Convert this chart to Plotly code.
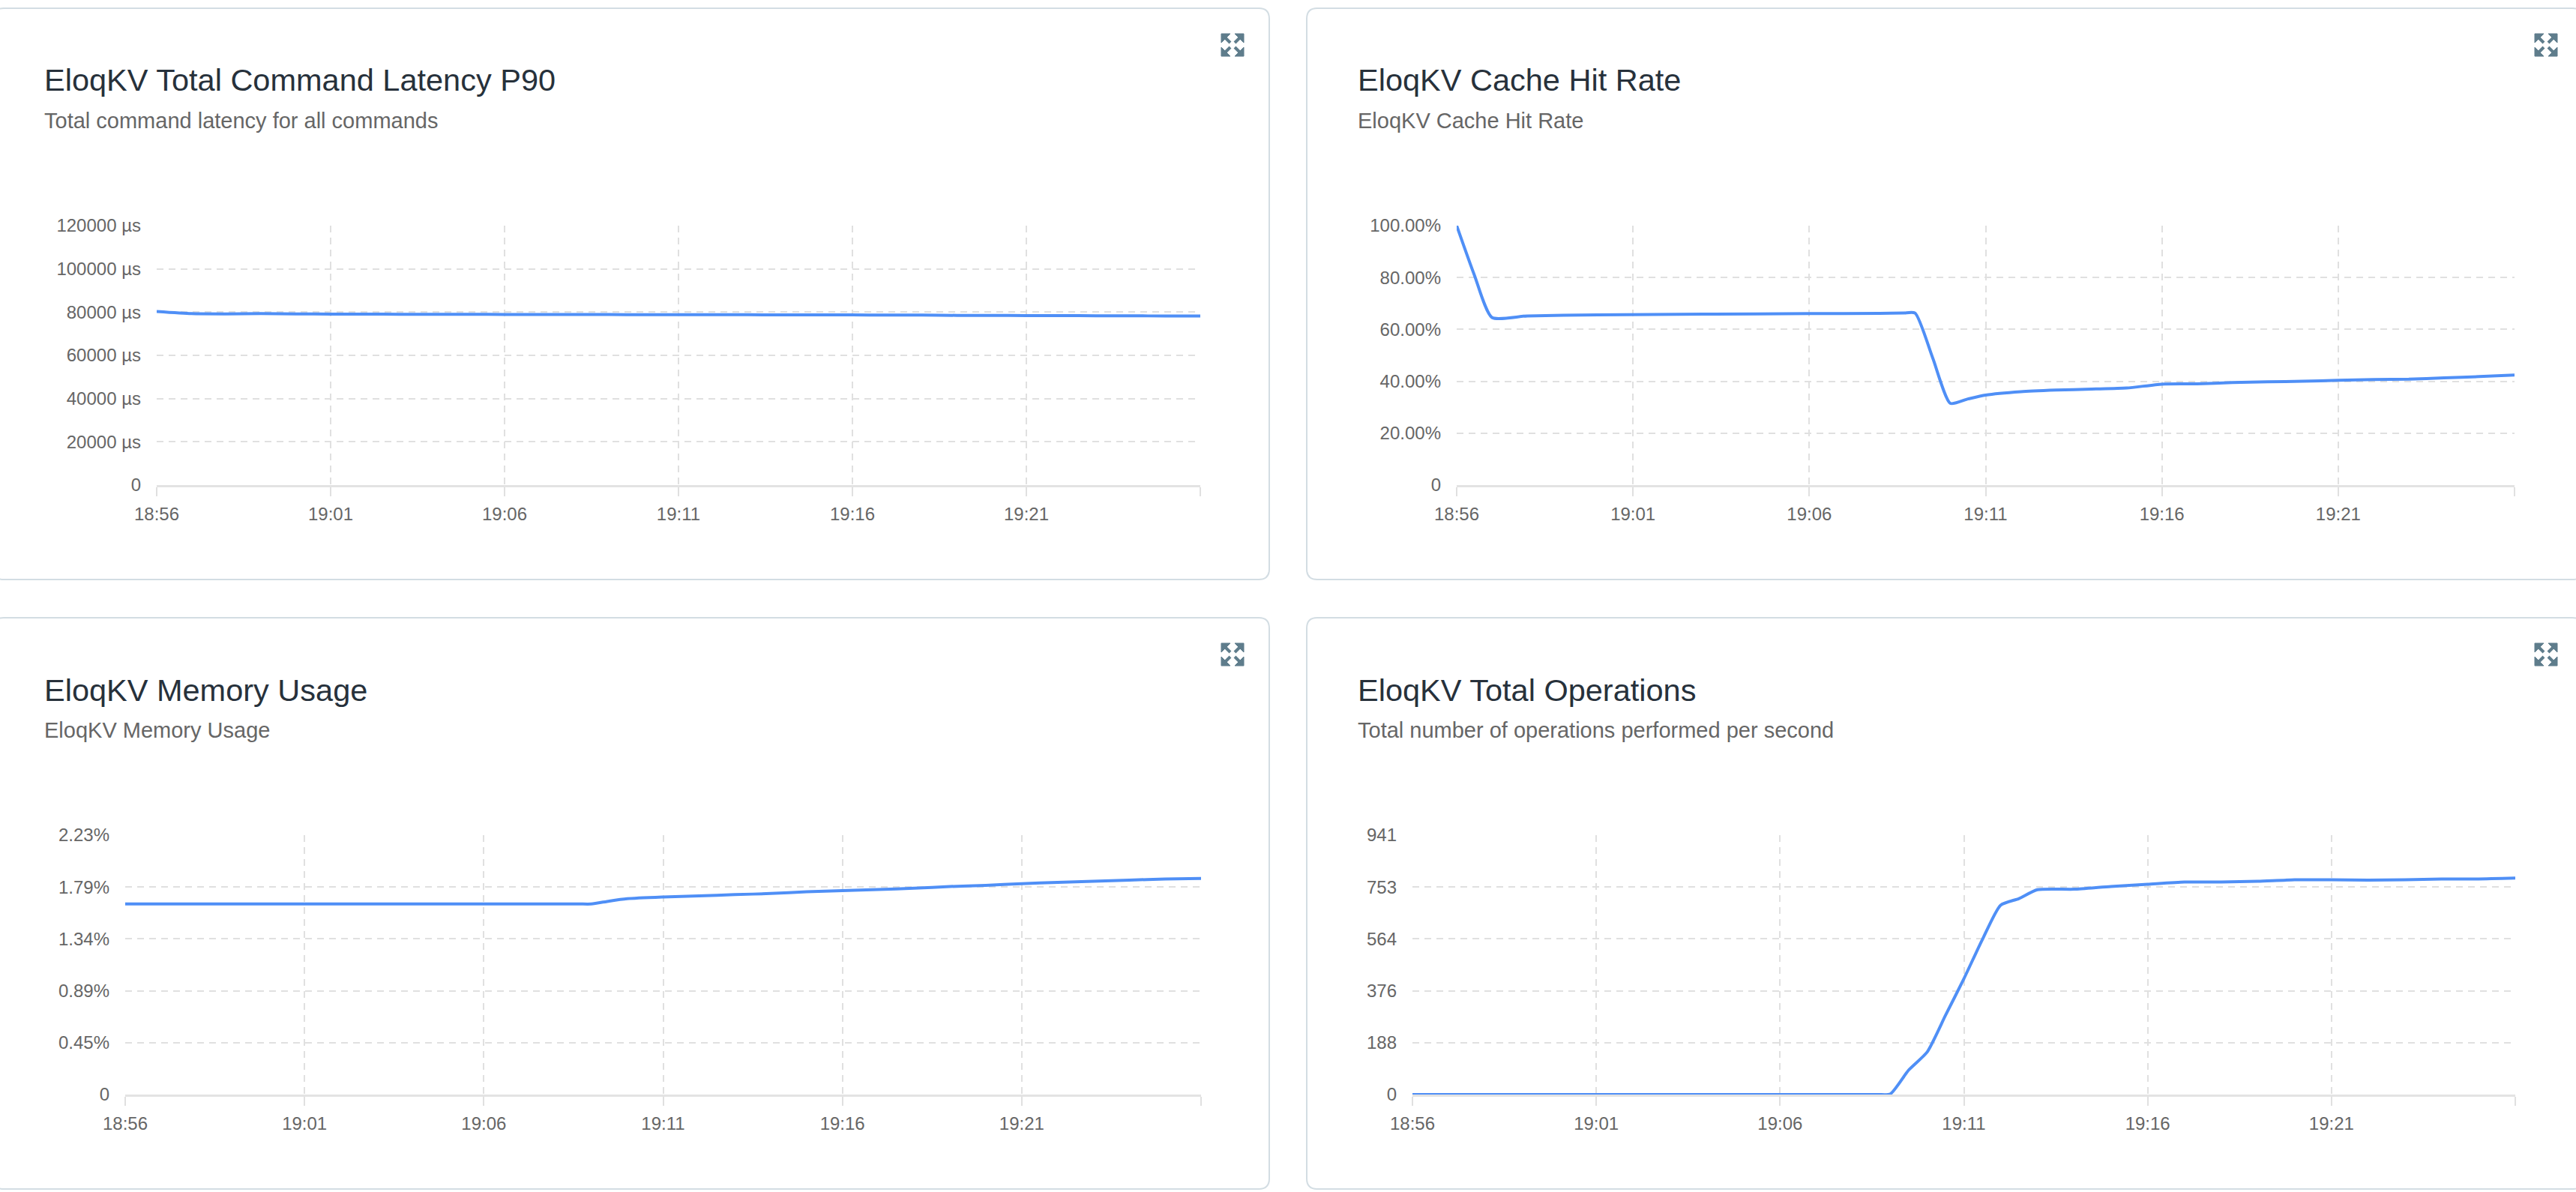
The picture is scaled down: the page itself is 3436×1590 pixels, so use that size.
import plotly.graph_objects as go

W, H = 3436, 1590
DAY = "2024-05-20 "

# ---------------- data ----------------
x_tick_times = ["18:56", "19:01", "19:06", "19:11", "19:16", "19:21", "19:26"]
x_tick_labels = ["18:56", "19:01", "19:06", "19:11", "19:16", "19:21", ""]

lat_times = ["18:56", "18:57", "18:58", "18:59", "19:00", "19:01", "19:02", "19:03", "19:04", "19:05",
             "19:06", "19:07", "19:08", "19:09", "19:10", "19:11", "19:12", "19:13", "19:14", "19:15",
             "19:16", "19:17", "19:18", "19:19", "19:20", "19:21", "19:22", "19:23", "19:24", "19:25", "19:26"]
lat_values = [80300, 79300, 79200, 79300, 79200, 79100, 79100, 79000, 79000, 79000,
              78900, 78900, 78900, 78900, 78800, 78800, 78800, 78800, 78700, 78700,
              78700, 78600, 78600, 78500, 78500, 78400, 78400, 78300, 78300, 78200, 78200]
lat_ticks = [0, 20000, 40000, 60000, 80000, 100000, 120000]
lat_tick_labels = ["0", "20000 µs", "40000 µs", "60000 µs", "80000 µs", "100000 µs", "120000 µs"]

hit_times = ["18:56:00", "18:56:30", "18:57:00", "18:58:00", "19:00:00", "19:03:00", "19:06:00",
             "19:08:00", "19:08:40", "19:09:00", "19:09:30", "19:10:00", "19:10:30", "19:11:00",
             "19:12:00", "19:13:00", "19:14:00", "19:15:00", "19:16:00", "19:17:00", "19:18:00",
             "19:19:00", "19:20:00", "19:21:00", "19:22:00", "19:23:00", "19:24:00", "19:25:00", "19:26:00"]
hit_values = [100, 81, 64.6, 65.2, 65.6, 65.9, 66.1,
              66.2, 66.3, 66.3, 49, 31.5, 33.2, 34.7,
              36.0, 36.6, 37.0, 37.4, 38.9, 39.0, 39.5,
              39.8, 40.0, 40.4, 40.7, 40.8, 41.3, 41.8, 42.4]
hit_ticks = [0, 20, 40, 60, 80, 100]
hit_tick_labels = ["0", "20.00%", "40.00%", "60.00%", "80.00%", "100.00%"]

mem_times = ["18:56:00", "18:58:00", "19:00:00", "19:02:00", "19:04:00", "19:06:00", "19:08:00",
             "19:08:40", "19:09:00", "19:09:30", "19:10:00", "19:11:00", "19:12:00", "19:13:00", "19:14:00",
             "19:15:00", "19:16:00", "19:17:00", "19:18:00", "19:19:00", "19:20:00", "19:21:00",
             "19:22:00", "19:23:00", "19:24:00", "19:25:00", "19:26:00"]
mem_values = [1.64, 1.64, 1.64, 1.64, 1.64, 1.64, 1.64,
              1.64, 1.64, 1.665, 1.685, 1.70, 1.71, 1.72, 1.73,
              1.745, 1.755, 1.765, 1.775, 1.79, 1.80, 1.815,
              1.825, 1.835, 1.845, 1.855, 1.86]
mem_ticks = [0, 0.446, 0.893, 1.339, 1.786, 2.232]
mem_tick_labels = ["0", "0.45%", "0.89%", "1.34%", "1.79%", "2.23%"]

ops_times = ["18:56:00", "19:00:00", "19:05:00", "19:08:00", "19:08:40", "19:09:00", "19:09:30",
             "19:10:00", "19:10:30", "19:11:00", "19:11:30", "19:12:00", "19:12:30", "19:13:00",
             "19:14:00", "19:15:00", "19:16:00", "19:17:00", "19:18:00", "19:19:00", "19:20:00",
             "19:21:00", "19:22:00", "19:23:00", "19:24:00", "19:25:00", "19:26:00"]
ops_values = [0, 0, 0, 0, 0, 2, 89,
              154, 287, 420, 561, 687, 711, 743,
              745, 755, 763, 771, 771, 774, 779,
              779, 778, 779, 782, 782, 785]
ops_ticks = [0, 188.2, 376.4, 564.6, 752.8, 941]
ops_tick_labels = ["0", "188", "376", "564", "753", "941"]

titles = ["EloqKV Total Command Latency P90", "EloqKV Cache Hit Rate",
          "EloqKV Memory Usage", "EloqKV Total Operations"]
subtitles = ["Total command latency for all commands", "EloqKV Cache Hit Rate",
             "EloqKV Memory Usage", "Total number of operations performed per second"]

# ---------------- layout geometry (pixels) ----------------
cards = [(-9, 11, 1693, 773), (1743, 11, 3445, 773),
         (-9, 824, 1693, 1586), (1743, 824, 3445, 1586)]
plots = [(209, 301, 1601, 647), (1943, 301, 3354, 647),
         (167, 1114, 1602, 1460), (1884, 1114, 3355, 1460)]

FONT = "Liberation Sans"
LINE_COLOR = "#4f8ff6"
GRID = "#e0e0e0"


def px(x):
    return x / W


def py(y):
    return 1 - y / H


def t(s):
    s = s if s.count(":") == 2 else s + ":00"
    return DAY + s


fig = go.Figure()

series = [(lat_times, lat_values, lat_ticks, lat_tick_labels, [0, 120000]),
          (hit_times, hit_values, hit_ticks, hit_tick_labels, [0, 100]),
          (mem_times, mem_values, mem_ticks, mem_tick_labels, [0, 2.232]),
          (ops_times, ops_values, ops_ticks, ops_tick_labels, [0, 941])]

layout_axes = {}
for i, ((times, vals, yt, ytl, yr), (x0, y0, x1, y1)) in enumerate(zip(series, plots)):
    n = "" if i == 0 else str(i + 1)
    fig.add_trace(go.Scatter(
        x=[t(s) for s in times], y=vals, mode="lines",
        line=dict(color=LINE_COLOR, width=4, shape="spline", smoothing=0.6),
        xaxis="x" + n, yaxis="y" + n, hoverinfo="x+y", showlegend=False))
    layout_axes["xaxis" + n] = dict(
        domain=[px(x0), px(x1)], anchor="y" + n, type="date",
        range=[t("18:56"), t("19:26")],
        tickvals=[t(s) for s in x_tick_times], ticktext=x_tick_labels,
        showgrid=True, gridcolor=GRID, gridwidth=2, griddash="9px,7px",
        showline=True, linecolor="#e3e3e3", linewidth=3,
        ticks="outside", ticklen=12, tickwidth=2, tickcolor=GRID,
        tickfont=dict(family=FONT, size=24, color="#666666"),
        ticklabelstandoff=3, zeroline=False, fixedrange=True, automargin=False)
    layout_axes["yaxis" + n] = dict(
        domain=[py(y1), py(y0)], anchor="x" + n, range=yr,
        tickvals=yt, ticktext=ytl,
        showgrid=True, gridcolor=GRID, gridwidth=2, griddash="9px,7px",
        showline=False, zeroline=False, ticks="",
        tickfont=dict(family=FONT, size=24, color="#666666"),
        ticklabelstandoff=20, fixedrange=True, automargin=False)

shapes = []
R = 14
for (x0, y0, x1, y1) in cards:
    pts = (f"M {px(x0+R)},{py(y0)} L {px(x1-R)},{py(y0)} Q {px(x1)},{py(y0)} {px(x1)},{py(y0+R)} "
           f"L {px(x1)},{py(y1-R)} Q {px(x1)},{py(y1)} {px(x1-R)},{py(y1)} "
           f"L {px(x0+R)},{py(y1)} Q {px(x0)},{py(y1)} {px(x0)},{py(y1-R)} "
           f"L {px(x0)},{py(y0+R)} Q {px(x0)},{py(y0)} {px(x0+R)},{py(y0)} Z")
    shapes.append(dict(type="path", path=pts, xref="paper", yref="paper",
                       line=dict(color="#d3dde3", width=2), fillcolor="white", layer="below"))
    # expand icon (30x30) top-right
    ix, iy = x1 - 64, y0 + 34
    s = 30
    head = 12
    for (cx, cy, dx, dy) in [(ix, iy, 1, 1), (ix + s, iy, -1, 1), (ix, iy + s, 1, -1), (ix + s, iy + s, -1, -1)]:
        tri = (f"M {px(cx)},{py(cy)} L {px(cx+dx*head)},{py(cy)} L {px(cx)},{py(cy+dy*head)} Z")
        shapes.append(dict(type="path", path=tri, xref="paper", yref="paper",
                           line=dict(color="#5f7d8c", width=1), fillcolor="#5f7d8c"))
        shapes.append(dict(type="line", xref="paper", yref="paper",
                           x0=px(cx + dx * 5), y0=py(cy + dy * 5), x1=px(cx + dx * 12), y1=py(cy + dy * 12),
                           line=dict(color="#5f7d8c", width=4)))

annotations = []
for (x0, y0, x1, y1), ti, st in zip(cards, titles, subtitles):
    annotations.append(dict(text=ti, x=px(x0 + 66), y=py(y0 + 96), xref="paper", yref="paper",
                            xanchor="left", yanchor="middle", showarrow=False,
                            font=dict(family=FONT, size=41.5, color="#27313b")))
    annotations.append(dict(text=st, x=px(x0 + 66), y=py(y0 + 150), xref="paper", yref="paper",
                            xanchor="left", yanchor="middle", showarrow=False,
                            font=dict(family=FONT, size=29, color="#666666")))

fig.update_layout(width=W, height=H, margin=dict(l=0, r=0, t=0, b=0, pad=0, autoexpand=False),
                  paper_bgcolor="white", plot_bgcolor="rgba(0,0,0,0)",
                  shapes=shapes, annotations=annotations, showlegend=False,
                  **layout_axes)

fig.write_html("out.html", config={"displayModeBar": False},
               post_script="document.body.style.margin='0';document.body.style.overflow='hidden';")
